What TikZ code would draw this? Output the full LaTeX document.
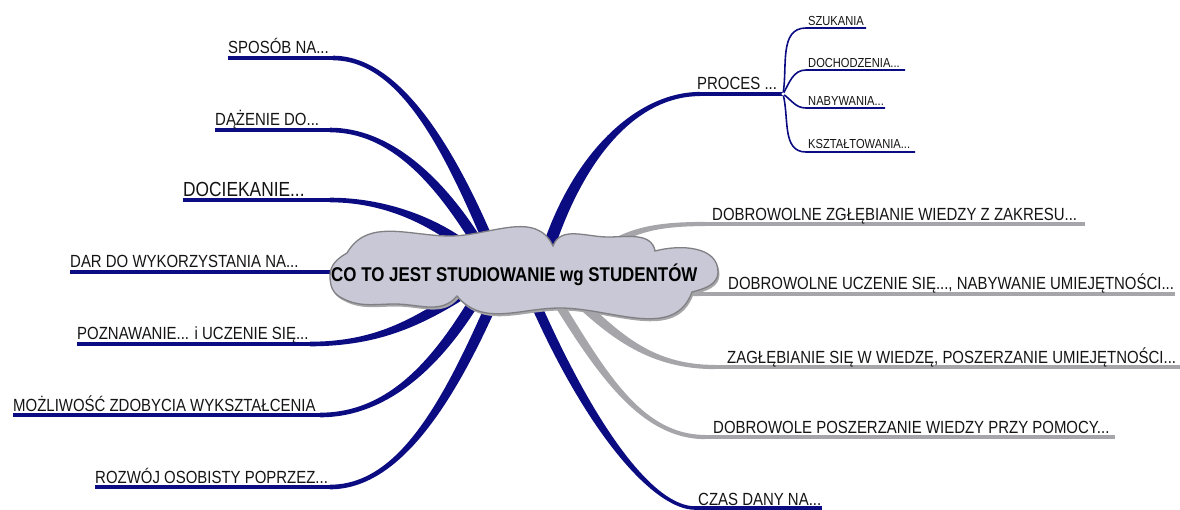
\documentclass[tikz,border=0pt]{standalone}
\usepackage{fontspec}
\setmainfont{Liberation Sans}[FakeStretch=0.85]
\usetikzlibrary{calc}
\definecolor{navy}{RGB}{12,12,130}
\definecolor{branchgray}{RGB}{165,165,170}
\definecolor{cloudfill}{RGB}{200,200,214}
\definecolor{cloudline}{RGB}{128,128,132}
\definecolor{txt}{RGB}{20,20,20}
\newcommand\tbranch[7]{%
  \fill[#1] ($(#2)!#6!90:(#3)$) .. controls ($(#3)!#6!-90:(#2)$) and ($(#4)!#7!90:(#5)$) .. ($(#5)!#7!-90:(#4)$)
    -- ($(#5)!#7!90:(#4)$) .. controls ($(#4)!#7!-90:(#5)$) and ($(#3)!#6!90:(#2)$) .. ($(#2)!#6!-90:(#3)$) -- cycle;}
\newcommand\cloudoutline{(347,253) to[out=60,in=180] (450,236) to[out=0,in=115] (553,246)
  to[out=70,in=180] (608,237) to[out=0,in=100] (655,251) to[out=15,in=90] (718,272)
  to[out=-90,in=15] (692,292) to[out=-110,in=0] (560,308) to[out=180,in=-50] (457,296)
  to[out=-130,in=0] (395,304) to[out=180,in=-30] (340,297) to[out=150,in=-90] (330,276)
  to[out=90,in=-150] (347,253) -- cycle}
\tikzset{
  lbl/.style={anchor=base west, inner sep=0pt, text=txt, font=\fontsize{17.6}{19}\selectfont},
  smalllbl/.style={lbl, font=\fontsize{13.1}{15}\selectfont},
  biglbl/.style={lbl, font=\fontsize{20.4}{22}\selectfont},
  centerlbl/.style={lbl, text=black, font=\bfseries\fontsize{19.9}{22}\selectfont},
}
\begin{document}
\begin{tikzpicture}[x=1pt,y=-1pt]
\useasboundingbox (0,0) rectangle (1180,509);
% ---------- coordinates ----------
% left branches
\coordinate (s1) at (228,58);  \coordinate (p1) at (333,58);  \coordinate (q1) at (400,58);  \coordinate (r1) at (450,150); \coordinate (c1) at (492,250);
\coordinate (s2) at (215,130); \coordinate (p2) at (330,130); \coordinate (q2) at (390,130); \coordinate (r2) at (440,180); \coordinate (c2) at (482,250);
\coordinate (s3) at (183,200); \coordinate (p3) at (330,200); \coordinate (q3) at (390,200); \coordinate (r3) at (440,225); \coordinate (c3) at (472,252);
\coordinate (s4) at (70,272);  \coordinate (c4) at (345,272);
\coordinate (s5) at (77,344);  \coordinate (p5) at (310,344); \coordinate (q5) at (380,344); \coordinate (r5) at (420,320); \coordinate (c5) at (465,292);
\coordinate (s6) at (13,415);  \coordinate (p6) at (320,415); \coordinate (q6) at (390,415); \coordinate (r6) at (440,360); \coordinate (c6) at (480,292);
\coordinate (s7) at (95,487);  \coordinate (p7) at (330,487); \coordinate (q7) at (400,487); \coordinate (r7) at (450,400); \coordinate (c7) at (497,292);
% right branches
\coordinate (fork) at (783,94); \coordinate (p8) at (700,94); \coordinate (q8) at (640,94); \coordinate (r8) at (580,150); \coordinate (c8) at (547,252);
\coordinate (e9) at (1085,224);  \coordinate (p9) at (705,224);  \coordinate (q9) at (650,224);  \coordinate (r9) at (630,232);  \coordinate (c9) at (600,250);
\coordinate (e10) at (1175,294); \coordinate (p10) at (700,294); \coordinate (q10) at (675,294); \coordinate (r10) at (660,292); \coordinate (c10) at (640,290);
\coordinate (e11) at (1180,367); \coordinate (p11) at (715,367); \coordinate (q11) at (650,367); \coordinate (r11) at (615,335); \coordinate (c11) at (575,298);
\coordinate (e12) at (1115,437); \coordinate (p12) at (705,437); \coordinate (q12) at (640,437); \coordinate (r12) at (600,370); \coordinate (c12) at (555,298);
\coordinate (e13) at (822,508);  \coordinate (p13) at (695,508); \coordinate (q13) at (655,508); \coordinate (r13) at (593,435); \coordinate (c13) at (533,298);
% sub branches
\coordinate (t1) at (806,28);  \coordinate (u1) at (866,28);
\coordinate (t2) at (806,70);  \coordinate (u2) at (905,70);
\coordinate (t3) at (806,108); \coordinate (u3) at (885,108);
\coordinate (t4) at (806,152); \coordinate (u4) at (915,152);
% ---------- branches ----------
\foreach \i in {1,2,3,5,6,7} {
  \draw[navy, line width=4.6pt] (s\i) -- (p\i);
  \tbranch{navy}{p\i}{q\i}{r\i}{c\i}{2.3pt}{5.5pt}
}
\draw[navy, line width=4.6pt] (s4) -- (c4);
% PROCES
\draw[navy, line width=4.2pt] (fork) -- (p8);
\tbranch{navy}{p8}{q8}{r8}{c8}{2.1pt}{6pt}
% gray
\draw[branchgray, line width=4.2pt] (e9) -- (p9);
\tbranch{branchgray}{p9}{q9}{r9}{c9}{2.1pt}{3.5pt}
\draw[branchgray, line width=4.2pt] (e10) -- (p10);
\tbranch{branchgray}{p10}{q10}{r10}{c10}{2.1pt}{2.6pt}
\draw[branchgray, line width=4.2pt] (e11) -- (p11);
\tbranch{branchgray}{p11}{q11}{r11}{c11}{2.1pt}{5pt}
\draw[branchgray, line width=4.2pt] (e12) -- (p12);
\tbranch{branchgray}{p12}{q12}{r12}{c12}{2.1pt}{4.5pt}
% CZAS
\draw[navy, line width=3.6pt] (e13) -- (p13);
\tbranch{navy}{p13}{q13}{r13}{c13}{1.8pt}{5pt}
% sub-branches
\foreach \i/\a in {1/80,2/60,3/-35,4/-75} {
  \draw[navy, line width=1.6pt] (fork) to[out=\a,in=180] (t\i) -- (u\i);
}
\node[circle, fill=white, inner sep=0pt, minimum size=3.5pt] (forkdot) at (fork) {};
% ---------- cloud ----------
\fill[cloudline!70] [shift={(1.5,2.5)}] \cloudoutline;
\draw[cloudline, fill=cloudfill, line width=1.3pt] \cloudoutline;
% ---------- labels ----------
\node[centerlbl] (center) at (331,281) {CO TO JEST STUDIOWANIE wg STUDENTÓW};
\node[lbl] (n1) at (228,53) {SPOSÓB NA...};
\node[lbl] (n2) at (215,125) {DĄŻENIE DO...};
\node[biglbl] (n3) at (183,196) {DOCIEKANIE...};
\node[lbl] (n4) at (70,267) {DAR DO WYKORZYSTANIA NA...};
\node[lbl] (n5) at (77,339) {POZNAWANIE... i UCZENIE SIĘ...};
\node[lbl] (n6) at (13,411) {MOŻLIWOŚĆ ZDOBYCIA WYKSZTAŁCENIA};
\node[lbl] (n7) at (95,483) {ROZWÓJ OSOBISTY POPRZEZ...};
\node[lbl] (n8) at (697,89) {PROCES ...};
\node[smalllbl] (m1) at (808,25) {SZUKANIA};
\node[smalllbl] (m2) at (808,67) {DOCHODZENIA...};
\node[smalllbl] (m3) at (808,105) {NABYWANIA...};
\node[smalllbl] (m4) at (808,148) {KSZTAŁTOWANIA...};
\node[lbl] (n9) at (712,220) {DOBROWOLNE ZGŁĘBIANIE WIEDZY Z ZAKRESU...};
\node[lbl] (n10) at (728,289) {DOBROWOLNE UCZENIE SIĘ..., NABYWANIE UMIEJĘTNOŚCI...};
\node[lbl] (n11) at (727,363) {ZAGŁĘBIANIE SIĘ W WIEDZĘ, POSZERZANIE UMIEJĘTNOŚCI...};
\node[lbl] (n12) at (713,433) {DOBROWOLE POSZERZANIE WIEDZY PRZY POMOCY...};
\node[lbl] (n13) at (698,505) {CZAS DANY NA...};
\end{tikzpicture}
\end{document}
